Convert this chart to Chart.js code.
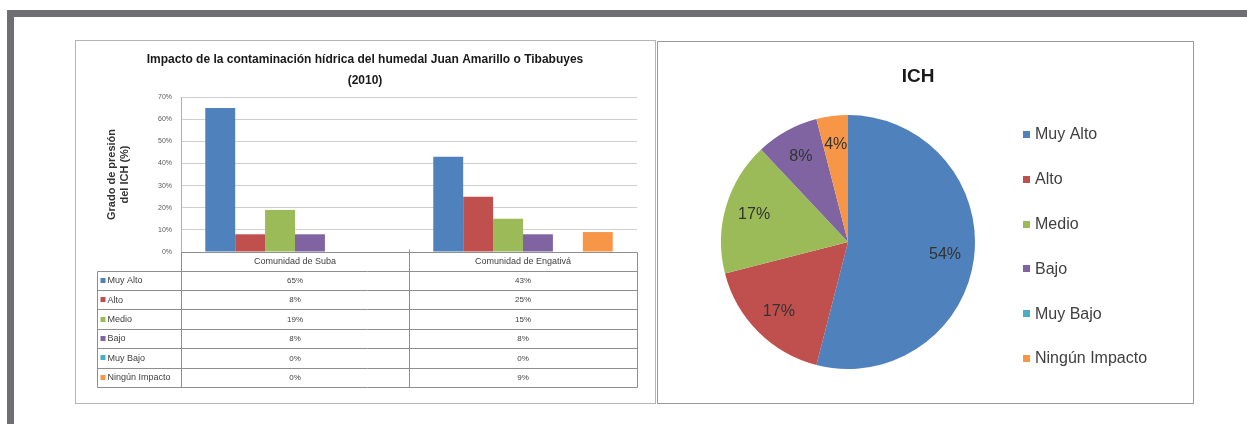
<!DOCTYPE html>
<html>
<head>
<meta charset="utf-8">
<script src="https://cdn.jsdelivr.net/npm/chart.js@4.4.1/dist/chart.umd.min.js"></script>
<style>
  html, body { margin: 0; padding: 0; background: #ffffff; }
  body { width: 1247px; height: 424px; position: relative; overflow: hidden; }
  .band { position: absolute; background: #6f6f73; }
  #bandTop { left: 7px; top: 10px; width: 1240px; height: 7px; }
  #bandLeft { left: 7px; top: 10px; width: 7px; height: 414px; }
  canvas { position: absolute; }
  .edge { position: absolute; border: 1px solid #b4b4b4; box-sizing: border-box; pointer-events: none; }
  #barChart { left: 75px; top: 40px; }
  #barEdge { left: 75px; top: 40px; width: 581px; height: 364px; }
  #pieChart { left: 657px; top: 41px; }
  #pieEdge { left: 657px; top: 41px; width: 537px; height: 363px; border-color: #9a9a9a; }
</style>
</head>
<body>
<div class="band" id="bandTop"></div>
<div class="band" id="bandLeft"></div>
<canvas id="barChart" width="580" height="363"></canvas>
<div class="edge" id="barEdge"></div>
<canvas id="pieChart" width="536" height="362"></canvas>
<div class="edge" id="pieEdge"></div>

<script>
// ---- data ----
const categories = ['Comunidad de Suba', 'Comunidad de Engativá'];
const levels = ['Muy Alto', 'Alto', 'Medio', 'Bajo', 'Muy Bajo', 'Ningún Impacto'];
const levelColors = ['#4F81BD', '#C0504D', '#9BBB59', '#8064A2', '#4BACC6', '#F79646'];

// grado de presión por comunidad (%)
const muyAlto = [65, 43];
const alto = [8, 25];
const medio = [19, 15];
const bajo = [8, 8];
const muyBajo = [0, 0];
const ningunImpacto = [0, 9];
const seriesByLevel = [muyAlto, alto, medio, bajo, muyBajo, ningunImpacto];

const yTickValues = [0, 10, 20, 30, 40, 50, 60, 70];

// distribución total del ICH (%)
const ichValues = [54, 17, 17, 8, 0, 4];

const barTitle = ['Impacto de la contaminación hídrica del humedal Juan Amarillo o Tibabuyes', '(2010)'];
const pieTitle = 'ICH';

const FONT = "'Liberation Sans', Arial, sans-serif";
Chart.defaults.font.family = FONT;
Chart.defaults.devicePixelRatio = 1;

// heading centred on the whole canvas (not only the plot area)
const headingPlugin = {
  id: 'heading',
  afterDraw(chart, args, opts) {
    const { ctx } = chart;
    ctx.save();
    ctx.font = 'bold ' + opts.size + 'px ' + FONT;
    ctx.fillStyle = '#1a1a1a';
    ctx.textAlign = 'center';
    ctx.textBaseline = 'middle';
    const x = opts.x != null ? opts.x : chart.width / 2;
    opts.lines.forEach((t, i) => ctx.fillText(t, x, opts.y + i * opts.lineStep));
    ctx.restore();
  }
};

// ---- data table drawn under the category axis ----
const dataTablePlugin = {
  id: 'dataTable',
  afterDraw(chart) {
    const { ctx, chartArea, scales } = chart;
    const xs = scales.x;
    const left = chartArea.left, right = chartArea.right, top = chartArea.bottom;
    const headerH = 18.5, rowH = 19.4;
    const tableLeft = 21.5;
    const bottom = top + headerH + rowH * levels.length;
    const mid = (xs.getPixelForValue(0) + xs.getPixelForValue(1)) / 2;

    ctx.save();
    ctx.strokeStyle = '#8e8e8e';
    ctx.lineWidth = 1;
    const line = (x1, y1, x2, y2) => {
      ctx.beginPath();
      ctx.moveTo(Math.round(x1) + 0.5, Math.round(y1) + 0.5);
      ctx.lineTo(Math.round(x2) + 0.5, Math.round(y2) + 0.5);
      ctx.stroke();
    };
    line(left, top, right, top);
    line(left, top, left, bottom);
    line(mid, top - 3, mid, bottom);
    line(right, top, right, bottom);
    line(tableLeft, top + headerH, tableLeft, bottom);
    for (let i = 0; i <= levels.length; i++) {
      const y = top + headerH + rowH * i;
      line(tableLeft, y, right, y);
    }

    ctx.textBaseline = 'middle';
    ctx.textAlign = 'center';
    ctx.fillStyle = '#404040';
    ctx.font = '9px ' + FONT;
    categories.forEach((c, i) => {
      ctx.fillText(c, xs.getPixelForValue(i), top + headerH / 2 + 0.5);
    });

    levels.forEach((lvl, i) => {
      const yc = top + headerH + rowH * i + rowH / 2 + 0.5;
      ctx.fillStyle = levelColors[i];
      ctx.fillRect(tableLeft + 4, Math.round(yc) - 3, 5, 5);
      ctx.fillStyle = '#404040';
      ctx.textAlign = 'left';
      ctx.font = '9px ' + FONT;
      ctx.fillText(lvl, tableLeft + 11, yc);
      ctx.textAlign = 'center';
      ctx.font = '8px ' + FONT;
      seriesByLevel[i].forEach((v, j) => {
        ctx.fillText(v + '%', xs.getPixelForValue(j), yc);
      });
    });
    ctx.restore();
  }
};

new Chart(document.getElementById('barChart'), {
  type: 'bar',
  data: {
    labels: categories,
    datasets: levels.map((lvl, i) => ({
      label: lvl,
      data: seriesByLevel[i],
      backgroundColor: levelColors[i],
      borderWidth: 0,
      categoryPercentage: 0.787,
      barPercentage: 1.0
    }))
  },
  options: {
    responsive: false,
    animation: false,
    events: [],
    layout: { padding: { left: 0, right: 18, top: 57, bottom: 151 } },
    plugins: {
      legend: { display: false },
      tooltip: { enabled: false },
      title: { display: false },
      heading: { lines: barTitle, size: 12, y: 19.5, lineStep: 21.5 }
    },
    scales: {
      x: {
        grid: { display: false },
        border: { display: false },
        ticks: { display: false },
        afterFit(s) { s.height = 0; }
      },
      y: {
        min: 0,
        max: 70,
        afterBuildTicks(s) { s.ticks = yTickValues.map(v => ({ value: v })); },
        ticks: {
          padding: 9,
          color: '#595959',
          font: { size: 7 },
          callback: v => v + '%'
        },
        grid: { color: '#cfcfcf', drawTicks: false },
        border: { display: true, color: '#b0b0b0' },
        title: {
          display: true,
          text: ['Grado de presión', 'del ICH (%)'],
          color: '#333333',
          font: { size: 11, weight: 'bold', lineHeight: 1.2 },
          padding: { top: 30.5, bottom: 0 }
        },
        afterFit(s) { s.width = 106; }
      }
    }
  },
  plugins: [headingPlugin, dataTablePlugin]
});

// ---- pie: percentage labels and side legend ----
const pieLabelPlugin = {
  id: 'pieLabels',
  afterDatasetsDraw(chart) {
    const { ctx } = chart;
    const meta = chart.getDatasetMeta(0);
    ctx.save();
    ctx.font = '16px ' + FONT;
    ctx.fillStyle = '#333333';
    ctx.textAlign = 'center';
    ctx.textBaseline = 'middle';
    meta.data.forEach((arc, i) => {
      const v = ichValues[i];
      if (!v) return;
      const p = arc.getProps(['x', 'y', 'startAngle', 'endAngle', 'outerRadius']);
      const a = (p.startAngle + p.endAngle) / 2;
      const r = p.outerRadius * 0.77;
      ctx.fillText(v + '%', p.x + Math.cos(a) * r, p.y + Math.sin(a) * r);
    });
    ctx.restore();
  }
};

const pieLegendPlugin = {
  id: 'pieSideLegend',
  afterDraw(chart) {
    const { ctx } = chart;
    const x0 = 366, y0 = 94, step = 44.8;
    ctx.save();
    ctx.font = '16px ' + FONT;
    ctx.textAlign = 'left';
    ctx.textBaseline = 'middle';
    levels.forEach((lvl, i) => {
      const y = y0 + step * i;
      ctx.fillStyle = levelColors[i];
      ctx.fillRect(x0, Math.round(y) - 4, 7, 7);
      ctx.fillStyle = '#404040';
      ctx.fillText(lvl, x0 + 12, y);
    });
    ctx.restore();
  }
};

new Chart(document.getElementById('pieChart'), {
  type: 'pie',
  data: {
    labels: levels,
    datasets: [{
      data: ichValues,
      backgroundColor: levelColors,
      borderWidth: 0,
      hoverOffset: 0,
      hoverBorderWidth: 0
    }]
  },
  options: {
    responsive: false,
    animation: false,
    events: [],
    layout: { padding: { left: 64, right: 218, top: 74, bottom: 34 } },
    plugins: {
      legend: { display: false },
      tooltip: { enabled: false },
      title: { display: false },
      heading: { lines: [pieTitle], size: 19, x: 261, y: 36, lineStep: 0 }
    }
  },
  plugins: [headingPlugin, pieLabelPlugin, pieLegendPlugin]
});
</script>
</body>
</html>
